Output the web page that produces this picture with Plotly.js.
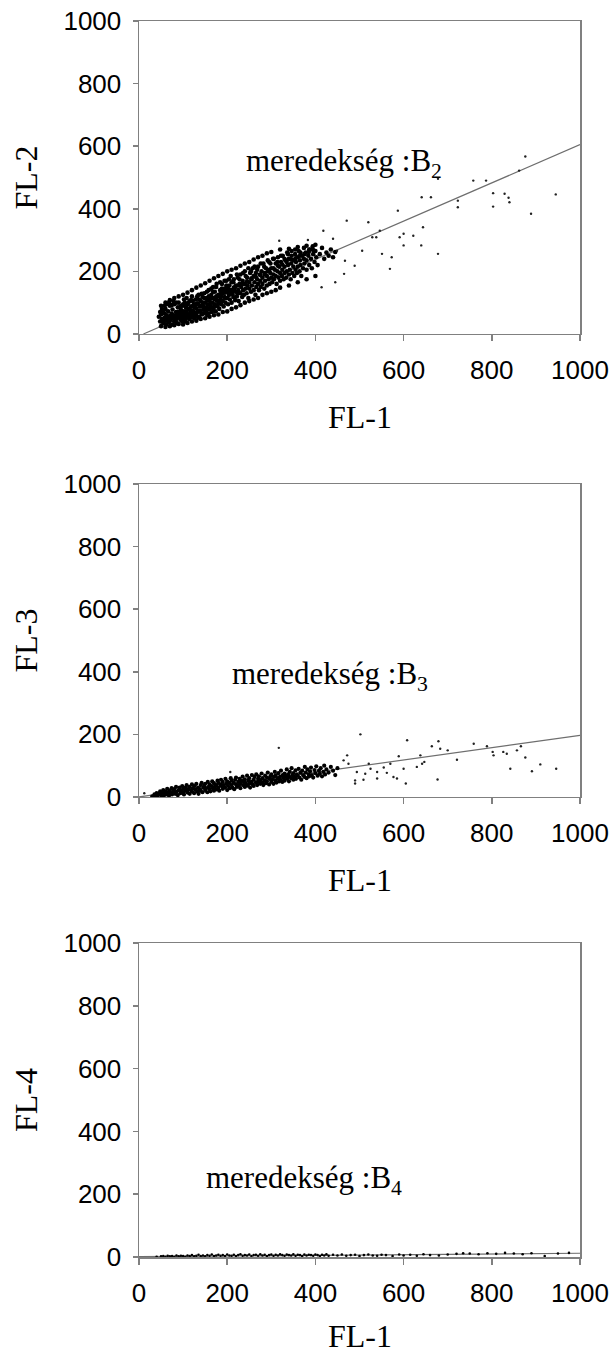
<!DOCTYPE html>
<html>
<head>
<meta charset="utf-8">
<script src="https://cdn.plot.ly/plotly-3.0.1.min.js"></script>
<style>html,body{margin:0;padding:0;background:#fff;}#chart{width:614px;height:1354px;}</style>
</head>
<body>
<div id="chart"></div>
<script>
// ---------- Panel 1: FL-1 vs FL-2 ----------
const fl2CoreX = [45,48,50,52,55,55,58,60,60,62,63,65,66,68,70,70,72,74,75,76,78,80,80,82,84,85,86,88,90,90,92,94,95,96,98,100,100,102,104,105,106,108,110,110,112,114,115,116,118,120,120,122,124,125,126,128,130,130,132,134,135,136,138,140,140,142,144,145,146,148,150,150,152,154,155,156,158,160,160,162,164,165,166,168,170,170,172,174,175,176,178,180,180,182,184,185,186,188,190,190,192,194,195,196,198,200,200,202,204,205,206,208,210,210,212,214,215,216,218,220,220,222,224,225,226,228,230,230,232,234,235,236,238,240,240,242,244,245,246,248,250,250,252,254,255,256,258,260,260,262,264,265,266,268,270,270,272,274,275,276,278,280,280,282,284,285,286,288,290,290,292,294,295,296,298,300,300,302,304,305,306,308,310,310,312,314,315,316,318,320,320,322,324,325,326,328,330,330,332,334,335,336,338,340,340,342,344,345,346,348,350,350,352,354,355,356,358,360,360,362,364,365,366,368,370,372,374,375,378,380,380,384,386,388,390,392,395,398,400,402,405,410,415,420,425,430,435,440,445,
58,64,72,76,82,86,92,96,98,102,106,108,112,116,118,122,126,128,132,134,138,142,146,148,152,156,158,162,166,168,172,176,178,182,186,192,196,202,206,212,218,224,
50,60,70,80,90,100,110,120,130,140,150,160,170,180,190,200,210,220,230,240,250,260,270,280,290,300,320,340,360,380,400,
50,60,70,80,90,100,110,120,130,140,150,160,170,180,190,200,210,220,230,240,250,260,270,280,290,300,310,320,340,360,380,400,
55,65,75,85,95,105,115,125,135,145,155,165,175,185,195,205,215,225,235,245,255,265,275,285,295,305,315,325,335,345,355,365,375,385,395,
48,52,58,62,68,74,78,84,88,94,100,104,108,112,118,122,128,132,136,142,148,154,158,164,168,172,176,184,188,194,198,204,208,214,222,228,236,242,248,254,262,268,276,284,292,298,306,314,322,330,338,346,354,366,374,386,394];
const fl2CoreY = [55,40,62,48,35,70,52,42,80,30,60,48,72,38,55,90,45,65,30,78,52,40,95,60,70,48,35,85,55,100,68,45,78,58,90,50,72,110,62,40,85,70,55,95,78,48,105,65,88,58,120,75,95,50,68,110,82,60,98,72,125,55,88,105,70,62,118,90,78,130,68,100,85,115,60,95,140,78,110,88,125,70,100,135,85,115,95,72,150,108,88,125,100,80,140,112,95,160,105,130,88,118,145,100,170,115,135,95,125,155,110,140,100,165,128,118,175,145,108,135,155,120,180,140,105,160,130,190,150,118,170,140,125,160,200,145,130,180,155,115,165,145,195,135,175,155,210,140,185,165,125,195,150,175,160,215,140,190,170,150,200,180,160,225,145,190,170,210,185,155,200,175,230,160,195,180,210,165,240,190,175,205,185,225,160,200,245,180,215,195,170,230,185,205,250,175,215,195,235,180,200,260,220,190,240,205,175,225,250,195,215,235,185,255,205,230,195,245,215,265,200,235,220,185,250,210,240,225,260,205,235,250,220,270,240,210,255,230,265,245,220,255,275,240,260,250,270,245,262,
65,42,58,50,45,62,52,70,40,58,48,92,62,52,72,62,85,58,70,52,75,90,65,80,72,82,65,100,85,75,110,90,120,105,120,140,115,145,130,140,150,130,
90,100,108,115,120,125,132,140,148,155,162,170,178,185,192,200,205,210,218,225,230,238,245,250,258,262,270,272,278,282,285,
25,22,25,28,32,30,35,40,42,48,50,55,60,62,70,72,80,85,92,100,105,110,115,125,130,135,140,148,155,165,175,185,
45,55,62,55,62,72,80,88,95,100,108,115,120,128,132,138,148,155,160,168,178,182,188,195,205,210,218,222,230,238,242,250,255,262,268,
70,80,90,95,100,92,105,100,70,88,95,100,115,100,108,105,95,120,110,128,115,135,120,145,150,135,160,165,145,170,155,175,185,165,190,175,195,185,210,200,215,205,225,215,235,225,240,230,250,240,255,265,270,260,275,270,280];
const fl2OutX = [876,945,889,803,803,829,840,838,723,758,787,862,678,662,641,644,640,622,600,587,591,569,573,546,538,551,520,506,529,471,489,467,465,445,414,418,383,318,440,449,678,600,723];
const fl2OutY = [567,446,384,407,450,448,421,435,405,490,490,522,256,437,437,341,283,314,283,394,309,208,245,330,309,256,357,266,309,362,218,234,192,165,149,330,300,298,304,266,496,320,426];
const fl2FitX = [10,1000];
const fl2FitY = [0,605];

// ---------- Panel 2: FL-1 vs FL-3 ----------
const fl3CoreX = [30,35,38,40,42,45,48,50,52,55,56,58,60,62,64,65,68,70,72,74,75,78,80,82,84,85,88,90,92,94,95,98,100,100,102,105,106,108,110,112,114,115,118,120,120,122,125,126,128,130,132,134,135,138,140,140,142,144,146,148,150,150,152,155,156,158,160,160,162,165,166,168,170,170,172,175,176,178,180,180,182,185,186,188,190,190,192,195,196,198,200,200,202,205,206,208,210,210,212,215,216,218,220,220,222,225,226,228,230,230,232,235,236,238,240,240,242,245,246,248,250,250,252,255,256,258,260,260,262,265,266,268,270,270,272,275,276,278,280,280,282,285,286,288,290,290,292,295,296,298,300,300,302,305,306,308,310,310,312,315,316,318,320,320,322,325,326,328,330,330,332,335,336,338,340,340,342,345,346,348,350,350,352,355,356,358,360,362,364,366,368,370,372,375,376,378,380,382,385,386,388,390,392,395,398,400,402,405,408,410,412,415,418,420,422,425,430,435,440,445,450];
const fl3CoreY = [2,8,4,12,3,10,18,6,14,22,3,10,18,8,26,14,5,20,12,28,8,18,25,10,32,16,6,22,30,12,20,35,15,26,8,30,20,38,14,25,32,10,22,40,18,28,12,35,24,42,18,30,10,25,38,20,45,15,30,36,22,42,28,15,48,32,25,40,18,35,50,28,20,44,32,38,24,52,30,45,20,40,55,34,26,48,38,30,58,42,22,50,35,45,28,60,38,52,30,45,25,55,40,62,32,48,36,58,42,28,52,65,38,48,32,56,44,68,36,52,42,60,30,48,70,40,55,35,64,46,72,38,58,48,66,42,54,75,45,60,38,52,68,44,62,50,78,40,58,66,48,72,55,42,64,80,52,68,46,60,76,50,65,56,84,48,70,60,75,52,66,88,58,72,50,66,80,60,92,70,55,76,64,85,58,72,68,90,62,78,55,84,70,64,96,78,60,88,72,66,82,94,70,62,86,76,98,68,84,74,92,66,80,100,72,88,78,96,84,70,92];
const fl3OutX = [502,608,679,664,683,700,759,789,802,804,826,834,857,866,876,842,891,910,946,721,677,605,589,638,642,647,630,600,585,577,562,555,540,525,513,509,490,494,472,464,475,317,207,490,521,540,570,12];
const fl3OutY = [200,181,178,162,154,149,170,162,144,133,144,138,149,162,126,90,82,104,90,119,56,43,130,133,106,112,96,90,59,64,77,94,80,90,74,55,53,80,133,117,106,157,80,43,106,59,106,12];
const fl3FitX = [0,1000];
const fl3FitY = [0,197];

// ---------- Panel 3: FL-1 vs FL-4 ----------
const fl4X = [40,50,55,60,65,70,75,80,85,90,95,100,105,110,115,120,125,130,135,140,145,150,155,160,165,170,175,180,185,190,195,200,205,210,215,220,225,230,235,240,245,250,255,260,265,270,275,280,285,290,295,300,305,310,315,320,325,330,335,340,345,350,355,360,365,370,375,380,385,390,395,400,405,410,415,420,425,430,440,450,460,470,480,490,500,510,520,530,540,550,560,575,590,600,615,630,645,660,680,700,720,735,750,770,790,810,830,850,870,890,920,950,975];
const fl4Y = [1,2,3,1,4,2,3,1,5,2,4,3,1,5,3,6,2,4,7,3,5,2,6,4,8,3,5,7,4,6,3,8,5,4,7,3,6,9,4,6,5,8,3,6,7,4,9,5,7,3,6,8,4,7,5,9,6,4,8,6,5,9,4,7,6,3,8,5,7,6,4,8,6,3,7,5,9,4,7,5,8,4,6,7,3,6,8,5,4,7,6,3,8,5,7,4,9,6,5,8,10,12,11,9,12,10,13,11,9,12,3,11,13];
const fl4FitX = [0,1000];
const fl4FitY = [1,12];

// ---------- shared labels ----------
const xTitle = 'FL-1';
const yTitles = ['FL-2', 'FL-3', 'FL-4'];
const slopeLabels = ['meredekség :B<sub>2</sub>', 'meredekség :B<sub>3</sub>', 'meredekség :B<sub>4</sub>'];
const tickVals = [0, 200, 400, 600, 800, 1000];
const labelPos = [[465, 547], [433, 386], [374, 245]];

const coreMarker = {color: '#000', size: 4.6};
const outMarker = {color: '#222', size: 2.4};
const fitLine = {color: '#6e6e6e', width: 1.2};

function sc(x, y, ax, marker) {
  return {type: 'scatter', mode: 'markers', x: x, y: y, xaxis: ax[0], yaxis: ax[1], marker: marker, hoverinfo: 'skip'};
}
function ln(x, y, ax) {
  return {type: 'scatter', mode: 'lines', x: x, y: y, xaxis: ax[0], yaxis: ax[1], line: fitLine, hoverinfo: 'skip'};
}

const A1 = ['x', 'y'], A2 = ['x2', 'y2'], A3 = ['x3', 'y3'];
const data = [
  ln(fl2FitX, fl2FitY, A1), sc(fl2CoreX, fl2CoreY, A1, coreMarker), sc(fl2OutX, fl2OutY, A1, outMarker),
  ln(fl3FitX, fl3FitY, A2), sc(fl3CoreX, fl3CoreY, A2, {color: '#000', size: 4.2}), sc(fl3OutX, fl3OutY, A2, outMarker),
  ln(fl4FitX, fl4FitY, A3), sc(fl4X, fl4Y, A3, {color: '#000', size: 2.6})
];

const tickFont = {family: 'Liberation Sans, Arial, sans-serif', size: 26, color: '#000'};
const titleFont = {family: 'Liberation Serif, Times New Roman, serif', size: 32, color: '#000'};

function xax(anchor) {
  return {anchor: anchor, domain: [0, 1], range: [0, 1000], tickvals: tickVals, ticks: 'outside', ticklen: 6, tickwidth: 1.5,
    tickcolor: '#808080', showline: true, linecolor: '#808080', linewidth: 1.5, mirror: true, showgrid: false, zeroline: false,
    tickfont: tickFont, ticklabelstandoff: 6, fixedrange: true};
}
function yax(anchor, dom) {
  return {anchor: anchor, domain: dom, range: [0, 1000], tickvals: tickVals, ticks: 'outside', ticklen: 5, tickwidth: 1.5,
    tickcolor: '#808080', showline: true, linecolor: '#808080', linewidth: 1.5, mirror: true, showgrid: false, zeroline: false,
    tickfont: tickFont, ticklabelstandoff: 6, fixedrange: true};
}

const xTitleShift = [-83, -83, -79];
const annotations = [];
const axPairs = [['x', 'y'], ['x2', 'y2'], ['x3', 'y3']];
for (let i = 0; i < 3; i++) {
  const xa = axPairs[i][0], ya = axPairs[i][1];
  annotations.push({xref: xa, yref: ya, x: labelPos[i][0], y: labelPos[i][1], text: slopeLabels[i], showarrow: false,
    xanchor: 'center', yanchor: 'middle',
    font: {family: 'Liberation Serif, Times New Roman, serif', size: 31, color: '#000'}});
  annotations.push({xref: xa + ' domain', yref: ya + ' domain', x: 0.5, y: 0, yshift: xTitleShift[i], text: xTitle, showarrow: false,
    xanchor: 'center', yanchor: 'middle', font: titleFont});
  annotations.push({xref: xa + ' domain', yref: ya + ' domain', x: 0, y: 0.5, xshift: -113, text: yTitles[i], textangle: -90,
    xanchor: 'center', yanchor: 'middle', showarrow: false, font: titleFont});
}

const layout = {
  width: 614, height: 1354, showlegend: false,
  paper_bgcolor: '#fff', plot_bgcolor: '#fff',
  margin: {l: 139, r: 34, t: 21, b: 97},
  xaxis: xax('y'), yaxis: yax('x', [0.7468, 1.0]),
  xaxis2: xax('y2'), yaxis2: yax('x2', [0.3722, 0.6254]),
  xaxis3: xax('y3'), yaxis3: yax('x3', [0, 0.2540]),
  annotations: annotations
};

Plotly.newPlot('chart', data, layout, {staticPlot: true, displayModeBar: false});
</script>
</body>
</html>
